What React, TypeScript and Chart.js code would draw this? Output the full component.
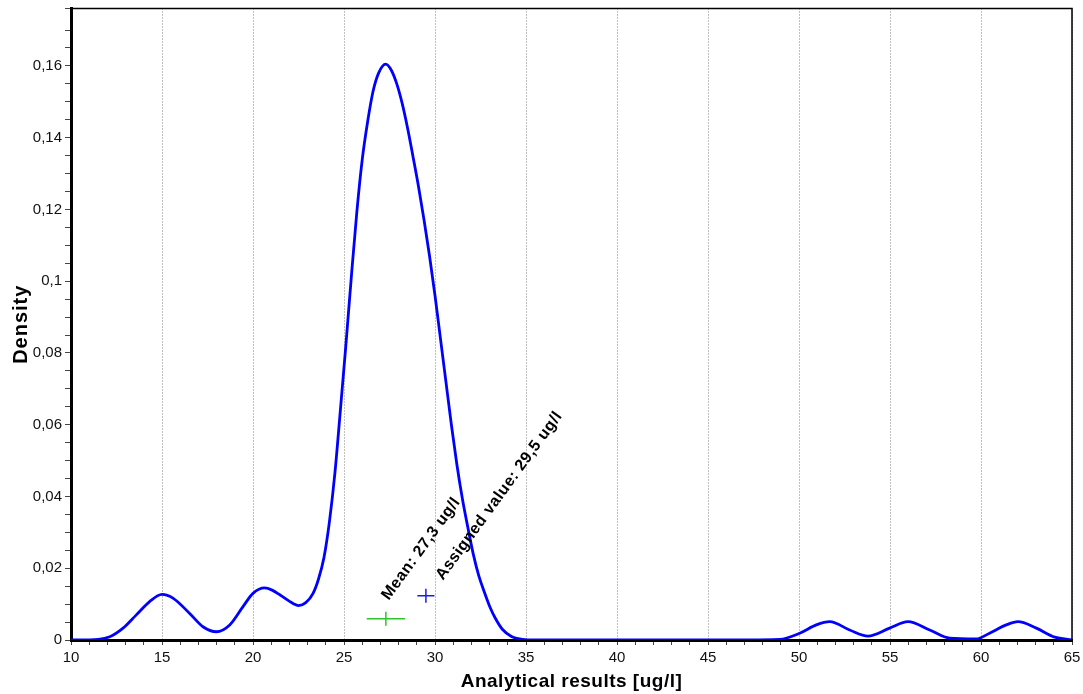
import React, { useEffect, useRef } from "react";
import { Chart, registerables } from "chart.js";

Chart.register(...registerables);

// Density curve (x in ug/l, y density)
const curveX = [
  10, 11.5, 12.13, 12.86, 13.59, 14.32, 15, 15.62, 16.52, 17.25, 17.99, 18.72, 19.45, 20.0, 20.64,
  21.05, 21.47, 22.2, 22.5, 22.9, 23.3, 23.6, 23.9, 24.2, 24.5, 24.8, 25.1, 25.4, 25.7, 26.0, 26.3,
  26.6, 26.9, 27.29, 27.6, 27.9, 28.2, 28.5, 28.8, 29.1, 29.4, 29.7, 30.0, 30.3, 30.6, 30.9, 31.2,
  31.5, 31.8, 32.1, 32.4, 32.7, 33.0, 33.3, 33.7, 34.2, 34.8, 35.5, 40, 45, 48.94, 50.04, 50.95,
  51.69, 52.78, 53.79, 54.98, 55.99, 57.18, 58.28, 59.74, 60.47, 61.39, 62.03, 63.04, 64.05, 65,
];
const curveY = [
  0, 0.0002, 0.0009, 0.0033, 0.007, 0.0107, 0.0127, 0.0116, 0.0074, 0.0037, 0.0023, 0.0042, 0.0093,
  0.013, 0.0145, 0.0139, 0.0126, 0.0102, 0.0096, 0.0104, 0.013, 0.017, 0.023, 0.033, 0.0465, 0.064,
  0.082, 0.101, 0.119, 0.1338, 0.1445, 0.153, 0.158, 0.1605, 0.1588, 0.155, 0.1495, 0.1425, 0.1345,
  0.1262, 0.117, 0.107, 0.096, 0.084, 0.072, 0.06, 0.049, 0.0395, 0.0315, 0.024, 0.018, 0.0135,
  0.0094, 0.0062, 0.003, 0.001, 0.0002, 0, 0, 0, 0.0002, 0.0019, 0.0042, 0.0051, 0.0028, 0.0011,
  0.0033, 0.0051, 0.0028, 0.0005, 0.0003, 0.0019, 0.0042, 0.0051, 0.0033, 0.0008, 0,
];

// Markers
const meanValue = 27.3;
const meanY = 0.0059;
const meanHalfRange = 1.05;
const meanLabel = "Mean: 27,3 ug/l";

const assignedValue = 29.5;
const assignedY = 0.0123;
const assignedHalfRange = 0.47;
const assignedLabel = "Assigned value: 29,5 ug/l";

const xMin = 10;
const xMax = 65;
const yMin = 0;
const yMax = 0.176;
const xTitle = "Analytical results [ug/l]";
const yTitle = "Density";

const FONT = '"Liberation Sans", Arial, Helvetica, sans-serif';
const GREEN = "#2fc42f";
const BLUE = "#1a1aee";

function fmtY(v: number): string {
  const r = v / 0.02;
  if (Math.abs(r - Math.round(r)) > 1e-6) return "";
  if (Math.abs(v) < 1e-9) return "0";
  return String(Number(v.toFixed(3))).replace(".", ",");
}

const decorPlugin = {
  id: "decor",
  afterDraw(chart: any) {
    const { ctx, chartArea } = chart;
    const xs = chart.scales.x;
    const ys = chart.scales.y;
    ctx.save();
    // frame (top & right thin lines)
    ctx.strokeStyle = "#000";
    ctx.lineWidth = 1.5;
    ctx.beginPath();
    ctx.moveTo(chartArea.left, chartArea.top);
    ctx.lineTo(chartArea.right, chartArea.top);
    ctx.lineTo(chartArea.right, chartArea.bottom);
    ctx.stroke();

    // rotated annotations
    ctx.fillStyle = "#000";
    ctx.font = `bold 16px ${FONT}`;
    (ctx as any).letterSpacing = "0.5px";
    ctx.textAlign = "left";
    ctx.textBaseline = "alphabetic";
    const ang = (-54 * Math.PI) / 180;
    const mx = xs.getPixelForValue(meanValue) + 3;
    const my = ys.getPixelForValue(meanY) - 18;
    ctx.save();
    ctx.translate(mx, my);
    ctx.rotate(ang);
    ctx.fillText(meanLabel, 0, 0);
    ctx.restore();
    const ax = xs.getPixelForValue(assignedValue) + 17;
    const ay = ys.getPixelForValue(assignedY) - 15;
    ctx.save();
    ctx.translate(ax, ay);
    ctx.rotate(ang);
    ctx.fillText(assignedLabel, 0, 0);
    ctx.restore();

    // axis titles
    ctx.font = `bold 19px ${FONT}`;
    (ctx as any).letterSpacing = "0.5px";
    ctx.textAlign = "center";
    ctx.fillText(xTitle, (chartArea.left + chartArea.right) / 2, 687);
    ctx.save();
    ctx.font = `bold 20px ${FONT}`;
    (ctx as any).letterSpacing = "1px";
    ctx.translate(27, (chartArea.top + chartArea.bottom) / 2);
    ctx.rotate(-Math.PI / 2);
    ctx.fillText(yTitle, 0, 0);
    ctx.restore();
    ctx.restore();
  },
};

export default function App() {
  const ref = useRef<HTMLCanvasElement | null>(null);
  useEffect(() => {
    if (!ref.current) return;
    const curve = curveX.map((x, i) => ({ x, y: curveY[i] }));
    const chart = new Chart(ref.current, {
      type: "line",
      data: {
        datasets: [
          {
            data: curve,
            borderColor: "#0000ff",
            borderWidth: 2.8,
            pointRadius: 0,
            cubicInterpolationMode: "monotone",
            fill: false,
            borderJoinStyle: "round",
          } as any,
          {
            data: [
              { x: meanValue - meanHalfRange, y: meanY },
              { x: meanValue + meanHalfRange, y: meanY },
            ],
            borderColor: GREEN,
            borderWidth: 1.5,
            pointRadius: 0,
          },
          {
            data: [{ x: meanValue, y: meanY }],
            showLine: false,
            pointStyle: "line",
            rotation: 90,
            pointRadius: 7,
            borderColor: GREEN,
            borderWidth: 1.5,
          } as any,
          {
            data: [
              { x: assignedValue - assignedHalfRange, y: assignedY },
              { x: assignedValue + assignedHalfRange, y: assignedY },
            ],
            borderColor: BLUE,
            borderWidth: 1.5,
            pointRadius: 0,
          },
          {
            data: [{ x: assignedValue, y: assignedY }],
            showLine: false,
            pointStyle: "line",
            rotation: 90,
            pointRadius: 7,
            borderColor: BLUE,
            borderWidth: 1.5,
          } as any,
        ],
      },
      options: {
        animation: false,
        responsive: false,
        devicePixelRatio: 1,
        layout: { padding: { top: 8, right: 11, left: 0, bottom: 0 } },
        plugins: { legend: { display: false }, tooltip: { enabled: false } },
        scales: {
          x: {
            type: "linear",
            min: xMin,
            max: xMax,
            afterFit: (s: any) => {
              s.height = 54;
              s.paddingLeft = 0;
              s.paddingRight = 0;
            },
            ticks: {
              stepSize: 1,
              autoSkip: false,
              maxRotation: 0,
              color: "#111",
              padding: 4,
              font: { family: FONT, size: 15 },
              callback: (v: any) => (Math.abs(v % 5) < 1e-9 ? String(v) : ""),
            },
            grid: {
              drawOnChartArea: true,
              color: (c: any) =>
                c.tick && Math.abs(c.tick.value % 5) < 1e-9 ? "#808080" : "rgba(0,0,0,0)",
              lineWidth: 1,
              tickLength: 5,
              tickColor: "#444",
              tickWidth: 1,
            },
            border: { display: true, color: "#000", width: 3, dash: [1, 2] },
          },
          y: {
            type: "linear",
            min: yMin,
            max: yMax,
            afterFit: (s: any) => {
              s.width = 71;
              s.paddingTop = 0;
              s.paddingBottom = 0;
            },
            ticks: {
              stepSize: 0.005,
              autoSkip: false,
              color: "#111",
              padding: 3,
              font: { family: FONT, size: 15 },
              callback: (v: any) => fmtY(Number(v)),
            },
            grid: {
              drawOnChartArea: false,
              tickLength: 6,
              tickColor: "#444",
              tickWidth: 1,
            },
            border: { display: true, color: "#000", width: 3 },
          },
        },
      } as any,
      plugins: [decorPlugin],
    });
    return () => chart.destroy();
  }, []);
  return (
    <div style={{ position: "fixed", left: 0, top: 0, width: 1083, height: 694, background: "#fff" }}>
      <canvas ref={ref} width={1083} height={694} style={{ display: "block" }} />
    </div>
  );
}
